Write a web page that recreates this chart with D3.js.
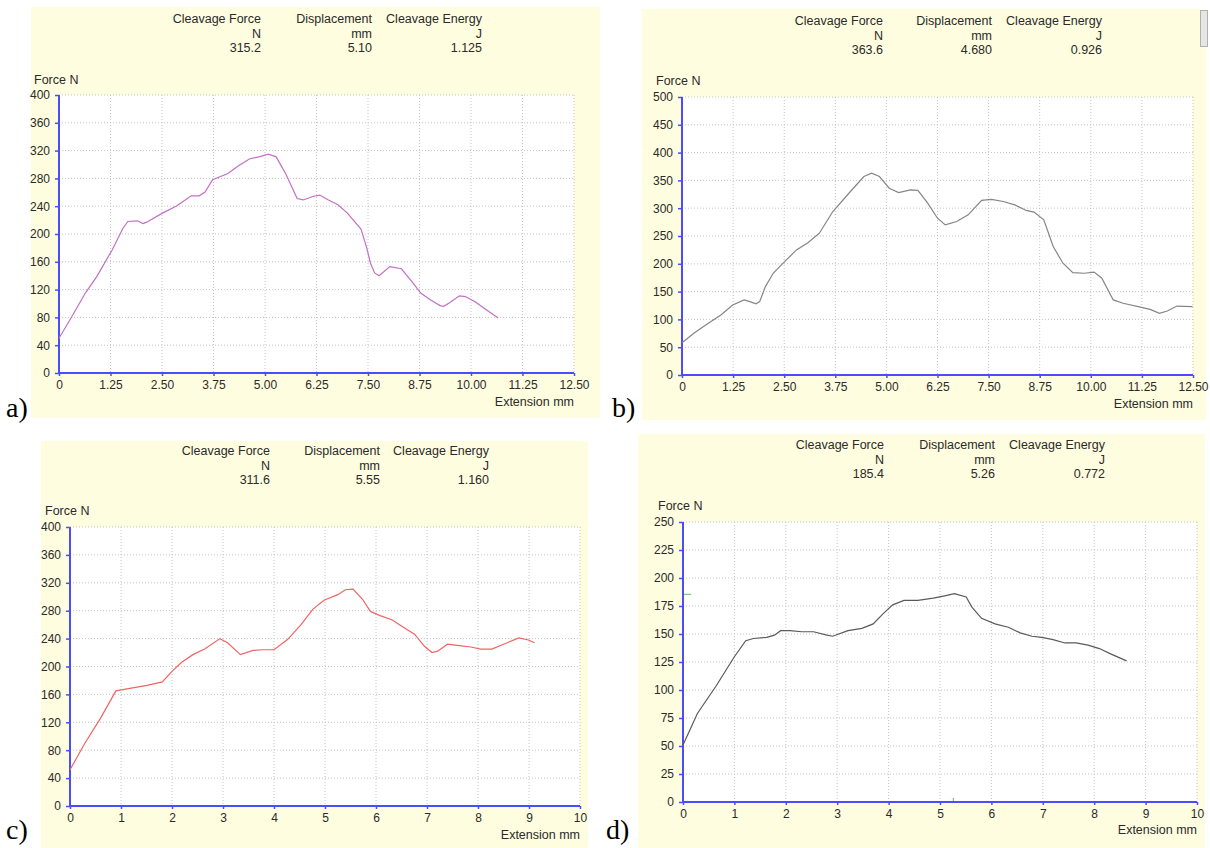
<!DOCTYPE html>
<html>
<head>
<meta charset="utf-8">
<script src="https://cdn.jsdelivr.net/npm/d3@7"></script>
<style>
  body { margin: 0; background: #fff; }
  svg { display: block; font-family: "Liberation Sans", Arial, sans-serif; }
</style>
</head>
<body>
<script>
// header of every panel
const headerTitles = ["Cleavage Force", "Displacement", "Cleavage Energy"];
const headerUnits = ["N", "mm", "J"];
const headerA = ["315.2", "5.10", "1.125"];
const headerB = ["363.6", "4.680", "0.926"];
const headerC = ["311.6", "5.55", "1.160"];
const headerD = ["185.4", "5.26", "0.772"];

// tick values
const xTicksAB = [0, 1.25, 2.5, 3.75, 5, 6.25, 7.5, 8.75, 10, 11.25, 12.5];
const xTicksCD = [0, 1, 2, 3, 4, 5, 6, 7, 8, 9, 10];
const yTicksAC = [0, 40, 80, 120, 160, 200, 240, 280, 320, 360, 400];
const yTicksB = [0, 50, 100, 150, 200, 250, 300, 350, 400, 450, 500];
const yTicksD = [0, 25, 50, 75, 100, 125, 150, 175, 200, 225, 250];

// curves: extension (mm) and force (N)
const extA = [0, 0.31, 0.64, 0.92, 1.29, 1.55, 1.67, 1.90, 2.04, 2.13, 2.51, 2.84, 3.02, 3.21, 3.40, 3.54, 3.73, 4.10, 4.33, 4.62, 4.85, 5.08, 5.27, 5.50, 5.78, 5.93, 6.16, 6.33, 6.54, 6.77, 7.00, 7.33, 7.47, 7.56, 7.66, 7.77, 8.03, 8.31, 8.60, 8.78, 9.02, 9.25, 9.34, 9.48, 9.72, 9.86, 10.09, 10.37, 10.66];
const forceA = [50, 81, 115, 139, 177, 208, 218, 219, 215, 217, 230, 240, 247, 255, 255, 260, 278, 287, 297, 308, 311, 315, 311, 287, 251, 249, 254, 256, 249, 242, 230, 207, 180, 158, 144, 140, 153, 150, 129, 115, 105, 97, 96, 101, 111, 110, 103, 91, 79];

const extB = [0, 0.29, 0.58, 0.95, 1.24, 1.52, 1.66, 1.81, 1.90, 2.04, 2.23, 2.51, 2.80, 3.08, 3.36, 3.69, 4.12, 4.45, 4.64, 4.83, 5.07, 5.30, 5.59, 5.77, 6.01, 6.25, 6.44, 6.72, 7.00, 7.33, 7.57, 7.86, 8.14, 8.42, 8.61, 8.85, 9.08, 9.32, 9.56, 9.84, 10.08, 10.27, 10.55, 10.79, 11.16, 11.45, 11.68, 11.87, 12.11, 12.49];
const forceB = [58, 75, 90, 108, 126, 135, 132, 128, 132, 159, 183, 204, 225, 238, 255, 294, 330, 357, 363, 357, 336, 328, 333, 332, 309, 282, 270, 276, 288, 314, 316, 312, 306, 296, 293, 279, 231, 201, 184, 183, 185, 174, 135, 129, 123, 118, 111, 115, 124, 123];

const extC = [0, 0.30, 0.60, 0.90, 1.20, 1.51, 1.81, 2.00, 2.19, 2.41, 2.64, 2.94, 3.09, 3.34, 3.59, 3.77, 4.00, 4.27, 4.53, 4.76, 4.98, 5.25, 5.40, 5.55, 5.74, 5.89, 6.08, 6.31, 6.50, 6.76, 6.95, 7.10, 7.21, 7.40, 7.63, 7.86, 8.05, 8.27, 8.54, 8.80, 8.99, 9.11];
const forceC = [52, 91, 126, 165, 169, 173, 178, 193, 206, 217, 225, 240, 234, 217, 223, 224, 224, 239, 260, 282, 295, 303, 310, 311, 296, 279, 273, 267, 258, 246, 229, 220, 222, 232, 230, 228, 225, 225, 233, 241, 238, 234];

const extD = [0, 0.28, 0.65, 0.99, 1.22, 1.37, 1.63, 1.78, 1.90, 2.08, 2.31, 2.54, 2.80, 2.91, 3.21, 3.48, 3.70, 3.89, 4.08, 4.30, 4.57, 4.87, 5.09, 5.28, 5.51, 5.62, 5.81, 6.07, 6.33, 6.56, 6.79, 6.98, 7.20, 7.43, 7.65, 7.88, 8.10, 8.33, 8.63];
const forceD = [51, 79, 104, 129, 144, 146, 147, 149, 153, 153, 152, 152, 149, 148, 153, 155, 159, 168, 176, 180, 180, 182, 184, 186, 183, 174, 164, 159, 156, 151, 148, 147, 145, 142, 142, 140, 137, 132, 126];

const W = 1210, H = 848;
const svg = d3.select("body").append("svg").attr("width", W).attr("height", H);

const fmtAB = v => v === 0 ? "0" : d3.format(".2f")(v);
const fmtCD = d3.format("d");

const panels = [
  { tag: "a)", bg: [31, 7, 600, 418], plot: [59, 95, 574, 373], tagPos: [6, 417],
    hdrRight: [261, 372, 482], hdrY: 20, forceY: 81, forceX: 34, extY: 403,
    ext: extA, force: forceA, header: headerA, xTicks: xTicksAB, yTicks: yTicksAC, fmt: fmtAB, color: "#c36fc6" },
  { tag: "b)", bg: [642, 9, 1206, 420], plot: [682, 97, 1193, 375], tagPos: [612, 417],
    hdrRight: [883, 992, 1102], hdrY: 22, forceY: 82, forceX: 656, extY: 405,
    ext: extB, force: forceB, header: headerB, xTicks: xTicksAB, yTicks: yTicksB, fmt: fmtAB, color: "#858585" },
  { tag: "c)", bg: [41, 441, 588, 848], plot: [70, 527, 580, 806], tagPos: [6, 839],
    hdrRight: [270, 380, 489], hdrY: 452, forceY: 512, forceX: 45, extY: 836,
    ext: extC, force: forceC, header: headerC, xTicks: xTicksCD, yTicks: yTicksAC, fmt: fmtCD, color: "#f06464" },
  { tag: "d)", bg: [638, 434, 1205, 848], plot: [683, 522, 1197, 802], tagPos: [606, 839],
    hdrRight: [884, 995, 1105], hdrY: 446, forceY: 507, forceX: 658, extY: 831,
    ext: extD, force: forceD, header: headerD, xTicks: xTicksCD, yTicks: yTicksD, fmt: fmtCD, color: "#5a5a5a",
    marker: [185.4, 5.26] }
];

panels.forEach(p => {
  const g = svg.append("g");
  const [bx0, by0, bx1, by1] = p.bg;
  const [px0, py0, px1, py1] = p.plot;

  g.append("rect").attr("x", bx0).attr("y", by0)
    .attr("width", bx1 - bx0).attr("height", by1 - by0).attr("fill", "#fffde0");
  g.append("rect").attr("x", px0).attr("y", py0)
    .attr("width", px1 - px0).attr("height", py1 - py0).attr("fill", "#ffffff");

  const x = d3.scaleLinear().domain(d3.extent(p.xTicks)).range([px0, px1]);
  const y = d3.scaleLinear().domain(d3.extent(p.yTicks)).range([py1, py0]);

  // grid
  g.selectAll(".vg").data(p.xTicks.slice(1)).enter().append("line")
    .attr("x1", d => x(d)).attr("x2", d => x(d)).attr("y1", py0).attr("y2", py1)
    .attr("stroke", "#c4c4c4").attr("stroke-dasharray", "1,2");
  g.selectAll(".hg").data(p.yTicks.slice(1)).enter().append("line")
    .attr("y1", d => y(d)).attr("y2", d => y(d)).attr("x1", px0).attr("x2", px1)
    .attr("stroke", "#c4c4c4").attr("stroke-dasharray", "1,2");

  // axes
  const xAxis = d3.axisBottom(x).tickValues(p.xTicks).tickFormat(p.fmt).tickSize(3).tickPadding(4);
  const yAxis = d3.axisLeft(y).tickValues(p.yTicks).tickSize(4).tickPadding(5);
  const gx = g.append("g").attr("transform", `translate(0,${py1})`).call(xAxis);
  const gy = g.append("g").attr("transform", `translate(${px0},0)`).call(yAxis);
  [gx, gy].forEach(a => {
    a.select(".domain").attr("stroke", "#4b4bff").attr("stroke-width", 2);
    a.selectAll(".tick line").attr("stroke", "#4b4bff").attr("stroke-width", 1.5);
    a.selectAll(".tick text").attr("fill", "#2a2a2a").style("font-size", "12px")
      .style("font-family", "Liberation Sans, Arial, sans-serif");
  });
  gx.select(".domain").attr("d", `M${px0},0H${px1}`);
  gy.select(".domain").attr("d", `M0,${py1}V${py0}`);

  // curve
  const pts = p.ext.map((e, i) => [e, p.force[i]]);
  g.append("path").datum(pts)
    .attr("fill", "none").attr("stroke", p.color).attr("stroke-width", 1.2)
    .attr("d", d3.line().x(d => x(d[0])).y(d => y(d[1])));

  if (p.marker) {
    g.append("line").attr("x1", px0 + 1).attr("x2", px0 + 8)
      .attr("y1", y(p.marker[0])).attr("y2", y(p.marker[0])).attr("stroke", "#6fcf6f").attr("stroke-width", 1.2);
    g.append("line").attr("x1", x(p.marker[1])).attr("x2", x(p.marker[1]))
      .attr("y1", py1 - 4).attr("y2", py1 - 1).attr("stroke", "#6fcf6f").attr("stroke-width", 1.2);
  }

  // texts
  const txt = (tx, ty, s, anchor, size) => g.append("text").attr("x", tx).attr("y", ty)
    .attr("text-anchor", anchor).attr("dominant-baseline", "middle")
    .attr("fill", "#2a2a2a").style("font-size", size || "12.5px").text(s);

  p.hdrRight.forEach((rx, i) => {
    txt(rx, p.hdrY, headerTitles[i], "end");
    txt(rx, p.hdrY + 14.5, headerUnits[i], "end");
    txt(rx, p.hdrY + 29, p.header[i], "end");
  });
  txt(p.forceX, p.forceY, "Force N", "start");
  txt(px1, p.extY, "Extension mm", "end");

  g.append("text").attr("x", p.tagPos[0]).attr("y", p.tagPos[1])
    .style("font-family", "Liberation Serif, Times New Roman, serif").style("font-size", "28px")
    .attr("fill", "#000").text(p.tag);
});

// small scroll stub at the top right of panel b
svg.append("rect").attr("x", 1200.5).attr("y", 10.5).attr("width", 7).attr("height", 36)
  .attr("fill", "#e6e6e6").attr("stroke", "#b0b0b0");
</script>
</body>
</html>
